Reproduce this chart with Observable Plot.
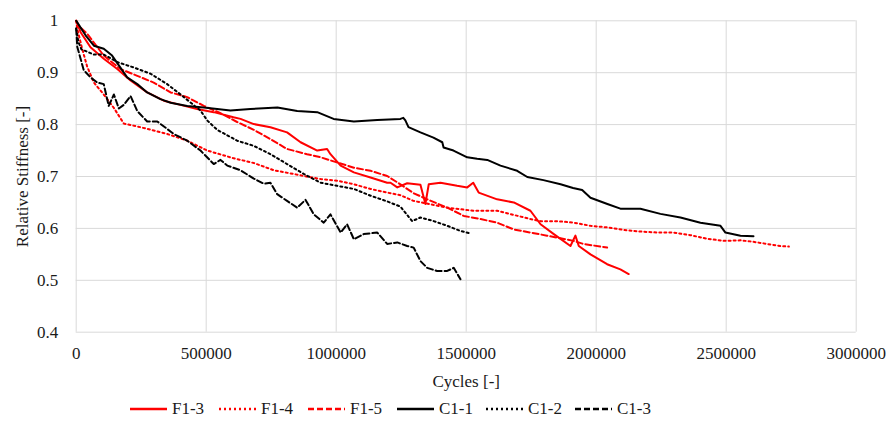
<!DOCTYPE html>
<html><head><meta charset="utf-8">
<script src="https://cdn.jsdelivr.net/npm/d3@7"></script>
<script src="https://cdn.jsdelivr.net/npm/@observablehq/plot@0.6"></script>
<style>
body{margin:0;background:#fff;color:#1a1a1a;}
#chart svg{display:block;}
#chart svg text{font-family:"Liberation Serif","Times New Roman",serif;}
#legend{display:flex;align-items:center;height:28px;padding-left:130px;font-size:17px;font-family:"Liberation Serif","Times New Roman",serif;}
#legend .item{display:flex;align-items:center;width:89px;}
#legend svg{display:block;margin-right:5px;}
</style>
</head><body>
<div id="chart"></div>
<div id="legend"></div>
<script>
const seriesNames = ["F1-3", "F1-4", "F1-5", "C1-1", "C1-2", "C1-3"];
const xTicks = [0, 500000, 1000000, 1500000, 2000000, 2500000, 3000000];
const yTicks = [0.4, 0.5, 0.6, 0.7, 0.8, 0.9, 1];

const f13Cycles = [0, 17000, 55000, 106000, 158000, 209000, 273000, 337000, 401000, 465000, 529000, 605000, 632000, 683000, 747000, 811000, 863000, 927000, 965000, 978000, 1017000, 1068000, 1132000, 1196000, 1209000, 1235000, 1273000, 1324000, 1343000, 1356000, 1401000, 1465000, 1504000, 1527000, 1548000, 1619000, 1683000, 1747000, 1786000, 1837000, 1901000, 1920000, 1933000, 1978000, 2042000, 2093000, 2125000];
const f13Stiffness = [1.0, 0.978, 0.949, 0.927, 0.907, 0.885, 0.862, 0.846, 0.838, 0.830, 0.824, 0.814, 0.811, 0.801, 0.795, 0.785, 0.766, 0.750, 0.753, 0.743, 0.721, 0.708, 0.698, 0.688, 0.688, 0.679, 0.687, 0.684, 0.647, 0.685, 0.688, 0.682, 0.679, 0.688, 0.669, 0.656, 0.650, 0.634, 0.608, 0.589, 0.566, 0.586, 0.566, 0.550, 0.531, 0.521, 0.512];

const f14Cycles = [0, 4000, 23000, 42000, 68000, 106000, 145000, 183000, 247000, 350000, 427000, 504000, 606000, 683000, 760000, 824000, 875000, 940000, 1004000, 1068000, 1132000, 1196000, 1247000, 1297000, 1427000, 1529000, 1619000, 1747000, 1786000, 1850000, 1914000, 1978000, 2042000, 2106000, 2170000, 2235000, 2298000, 2362000, 2427000, 2491000, 2555000, 2593000, 2658000, 2709000, 2741000];
const f14Stiffness = [1.0, 0.985, 0.946, 0.912, 0.881, 0.858, 0.832, 0.802, 0.795, 0.782, 0.769, 0.750, 0.735, 0.726, 0.712, 0.706, 0.701, 0.695, 0.692, 0.685, 0.676, 0.669, 0.664, 0.653, 0.640, 0.634, 0.634, 0.618, 0.614, 0.614, 0.611, 0.605, 0.602, 0.597, 0.594, 0.592, 0.592, 0.587, 0.580, 0.576, 0.577, 0.575, 0.570, 0.566, 0.565];

const f15Cycles = [0, 9000, 42000, 106000, 170000, 235000, 298000, 363000, 427000, 491000, 555000, 619000, 683000, 747000, 811000, 888000, 940000, 1004000, 1068000, 1132000, 1196000, 1247000, 1297000, 1350000, 1427000, 1491000, 1555000, 1619000, 1683000, 1747000, 1811000, 1863000, 1913000, 1951000, 2042000];
const f15Stiffness = [1.0, 0.991, 0.975, 0.933, 0.907, 0.894, 0.881, 0.862, 0.853, 0.836, 0.822, 0.805, 0.790, 0.772, 0.753, 0.743, 0.737, 0.727, 0.717, 0.711, 0.701, 0.685, 0.668, 0.656, 0.640, 0.624, 0.618, 0.611, 0.598, 0.592, 0.586, 0.581, 0.576, 0.570, 0.563];

const c11Cycles = [0, 4000, 36000, 68000, 106000, 138000, 164000, 196000, 235000, 273000, 324000, 363000, 427000, 491000, 542000, 593000, 670000, 774000, 850000, 927000, 990000, 1068000, 1158000, 1247000, 1258000, 1266000, 1278000, 1324000, 1374000, 1408000, 1413000, 1451000, 1504000, 1542000, 1581000, 1632000, 1696000, 1735000, 1797000, 1863000, 1911000, 1946000, 1978000, 2043000, 2093000, 2170000, 2247000, 2324000, 2401000, 2478000, 2497000, 2555000, 2605000];
const c11Stiffness = [1.0, 0.997, 0.972, 0.952, 0.946, 0.933, 0.914, 0.891, 0.878, 0.862, 0.849, 0.842, 0.836, 0.833, 0.830, 0.827, 0.830, 0.833, 0.826, 0.824, 0.811, 0.806, 0.809, 0.811, 0.813, 0.808, 0.795, 0.785, 0.775, 0.766, 0.756, 0.750, 0.737, 0.734, 0.732, 0.721, 0.711, 0.699, 0.693, 0.685, 0.678, 0.674, 0.659, 0.647, 0.638, 0.638, 0.628, 0.621, 0.611, 0.605, 0.592, 0.586, 0.585];

const c12Cycles = [0, 8000, 20000, 68000, 106000, 160000, 222000, 286000, 350000, 414000, 478000, 504000, 542000, 619000, 683000, 747000, 811000, 875000, 940000, 1004000, 1068000, 1132000, 1196000, 1247000, 1292000, 1324000, 1375000, 1427000, 1478000, 1517000];
const c12Stiffness = [0.985, 0.96, 0.945, 0.935, 0.935, 0.920, 0.910, 0.898, 0.878, 0.853, 0.827, 0.808, 0.790, 0.769, 0.759, 0.743, 0.724, 0.705, 0.688, 0.682, 0.676, 0.663, 0.652, 0.642, 0.614, 0.621, 0.614, 0.605, 0.595, 0.590];

const c13Cycles = [0, 4000, 29000, 55000, 81000, 106000, 125000, 145000, 164000, 183000, 209000, 235000, 273000, 312000, 375000, 427000, 478000, 529000, 555000, 581000, 632000, 683000, 722000, 747000, 773000, 811000, 850000, 882000, 914000, 952000, 978000, 1017000, 1042000, 1068000, 1106000, 1158000, 1196000, 1235000, 1273000, 1298000, 1324000, 1350000, 1388000, 1427000, 1452000, 1478000];
const c13Stiffness = [0.985, 0.950, 0.905, 0.891, 0.881, 0.878, 0.836, 0.858, 0.831, 0.838, 0.855, 0.826, 0.806, 0.806, 0.782, 0.769, 0.750, 0.724, 0.732, 0.721, 0.712, 0.696, 0.686, 0.688, 0.666, 0.653, 0.640, 0.655, 0.627, 0.611, 0.627, 0.592, 0.608, 0.579, 0.589, 0.592, 0.570, 0.573, 0.566, 0.563, 0.537, 0.524, 0.518, 0.518, 0.524, 0.502];

const seriesColors = ["#ff0000", "#ff0000", "#ff0000", "#000000", "#000000", "#000000"];
const seriesDash = [null, "2,3", "6,3", null, "2,3", "6,3"];
const cyclesList = [f13Cycles, f14Cycles, f15Cycles, c11Cycles, c12Cycles, c13Cycles];
const stiffList = [f13Stiffness, f14Stiffness, f15Stiffness, c11Stiffness, c12Stiffness, c13Stiffness];

const rows = [];
seriesNames.forEach((name, k) => {
  cyclesList[k].forEach((c, i) => rows.push({series: name, cycles: c, stiffness: stiffList[k][i]}));
});

const lineMarks = seriesNames.map((name, k) => Plot.line(rows.filter(r => r.series === name), {
  x: "cycles", y: "stiffness", stroke: seriesColors[k], strokeWidth: 2,
  strokeDasharray: seriesDash[k] || undefined, strokeLinejoin: "round"
}));

const FONT = "Liberation Serif";

const plot = Plot.plot({
  width: 890, height: 395,
  marginLeft: 75.7, marginRight: 34.3, marginTop: 20.3, marginBottom: 63.3,
  style: {fontSize: "17px", background: "#fff", color: "#1a1a1a"},
  x: {domain: [0, 3000000]},
  y: {domain: [0.4, 1]},
  marks: [
    Plot.gridX(xTicks, {stroke: "#d9d9d9", strokeOpacity: 1, strokeWidth: 1}),
    Plot.gridY(yTicks, {stroke: "#d9d9d9", strokeOpacity: 1, strokeWidth: 1}),
    Plot.axisX(xTicks, {tickSize: 0, tickPadding: 15, tickFormat: d => String(d), label: null, fontFamily: FONT, fontSize: 17}),
    Plot.axisY(yTicks, {tickSize: 0, tickPadding: 18, tickFormat: d => String(+d.toFixed(1)), label: null, fontFamily: FONT, fontSize: 17}),
    ...lineMarks,
    Plot.text(["Relative Stiffness [-]"], {text: d => d, frameAnchor: "middle", rotate: -90, dx: -443.7, fontSize: 17, fontFamily: FONT, fill: "#1a1a1a"}),
    Plot.text(["Cycles [-]"], {text: d => d, frameAnchor: "middle", dy: 205, fontSize: 17, fontFamily: FONT, fill: "#1a1a1a"})
  ]
});
plot.querySelectorAll("text").forEach(t => t.style.fontFamily = '"Liberation Serif", serif');
document.getElementById("chart").appendChild(plot);

const legend = document.getElementById("legend");
seriesNames.forEach((name, k) => {
  const item = document.createElement("div");
  item.className = "item";
  const dash = seriesDash[k] ? `stroke-dasharray="${seriesDash[k]}"` : "";
  item.innerHTML = `<svg width="37" height="10"><line x1="0" y1="5" x2="37" y2="5" stroke="${seriesColors[k]}" stroke-width="2.5" ${dash}/></svg><span style='font-family:"Liberation Serif",serif'>${name}</span>`;
  legend.appendChild(item);
});
</script>
</body></html>
